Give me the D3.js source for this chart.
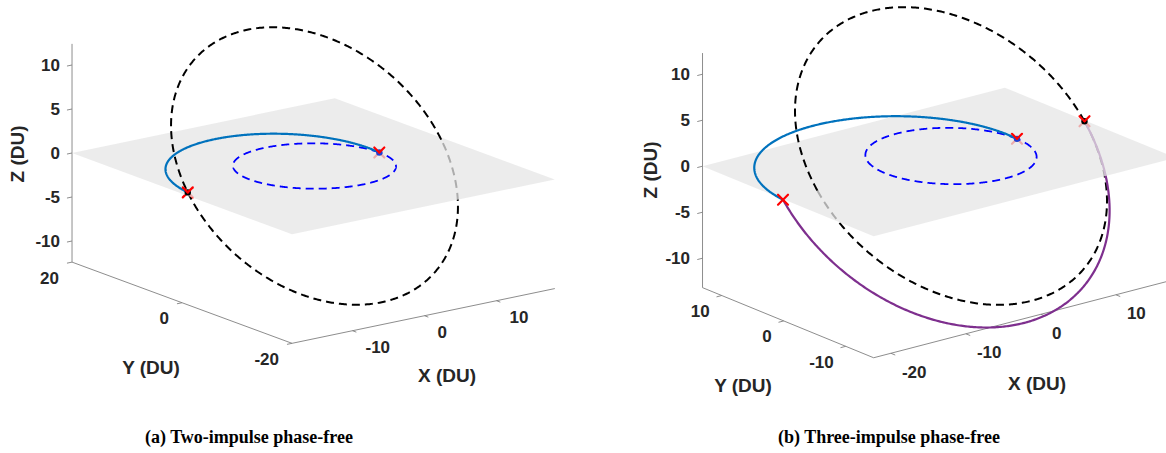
<!DOCTYPE html>
<html>
<head>
<meta charset="utf-8">
<script src="https://cdn.jsdelivr.net/npm/d3@7"></script>
<style>
  body { margin: 0; background: #fff; }
  svg text.axis-text { font-family: Arial, "Liberation Sans", Helvetica, sans-serif; }
  svg text.caption { font-family: "Liberation Serif", "Times New Roman", Times, serif; }
</style>
</head>
<body>
<svg id="fig" width="1166" height="453"></svg>
<script>
// ---- axis limits and ticks (DU) ----
const xLimA = [-18.4, 18.1], yLimA = [-20, 20], zLimA = [-12.4, 12.4];
const xTicksA = [-10, 0, 10], yTicksA = [-20, 0, 20], zTicksA = [-10, -5, 0, 5, 10];
const xLimB = [-22.3, 18.0], yLimB = [-14.5, 13.1], zLimB = [-13.2, 12.3];
const xTicksB = [-20, -10, 0, 10], yTicksB = [-10, 0, 10], zTicksB = [-10, -5, 0, 5, 10];

// ---- orbit data: [panel a, panel b] (radii in DU, angles in degrees) ----
const initialRadius = [9.0, 8.8];     // departure circle in the reference plane
const finalRadius   = [17.6, 17.8];   // target circle
const finalIncl     = [46, 43];       // target plane inclination
const leg1Apo       = [17.6, 22.4];   // first transfer arc: apoapsis radius
const leg1Tilt      = [4, 3.5];       // first transfer arc: plane tilt
const leg2Apo       = [null, 22.4];   // second transfer arc (three-impulse only)
const leg2Peri      = [null, 17.8];
const captions      = ["(a) Two-impulse phase-free", "(b) Three-impulse phase-free"];

const svg = d3.select("#fig");
svg.append("rect").attr("width", 1166).attr("height", 453).attr("fill", "#fff");

// points of a conic arc: periapsis on +x, node line along x, plane tilted by incl
function conic(rp, ra, incl, th0, th1) {
  const a = (rp + ra) / 2, e = (ra - rp) / (ra + rp), p = a * (1 - e * e);
  const ci = Math.cos(incl * Math.PI / 180), si = Math.sin(incl * Math.PI / 180);
  const n = Math.max(2, Math.round(Math.abs(th1 - th0) * 2));
  return d3.range(n + 1).map(k => {
    const th = (th0 + (th1 - th0) * k / n) * Math.PI / 180;
    const r = p / (1 + e * Math.cos(th));
    return [r * Math.cos(th), r * Math.sin(th) * ci, r * Math.sin(th) * si];
  });
}

// split a 3D polyline into runs above / below the z = 0 plane
function splitByPlane(pts) {
  const runs = [];
  for (let i = 0; i < pts.length - 1; i++) {
    const below = (pts[i][2] + pts[i + 1][2]) / 2 < -1e-6;
    const last = runs[runs.length - 1];
    if (last && last.below === below) last.pts.push(pts[i + 1]);
    else runs.push({ below, pts: [pts[i], pts[i + 1]] });
  }
  return runs;
}

const panelLayout = [
  { origin: [314.5, 166], ex: [7.2, -1.5], ey: [-5.5, -2.03], ez: [0, -8.8],
    xLim: xLimA, yLim: yLimA, zLim: zLimA, xTicks: xTicksA, yTicks: yTicksA, zTicks: zTicksA,
    zLab: [-12, 0], yLab: [-13, 16], xLab: [13, 17],
    zTitle: [17.5, 154], yTitle: [151, 367], xTitle: [447, 375], caption: [249, 443] },
  { origin: [951, 156], ex: [7.5, -1.95], ey: [-6.2, -2.54], ez: [0, -9.2],
    xLim: xLimB, yLim: yLimB, zLim: zLimB, xTicks: xTicksB, yTicks: yTicksB, zTicks: zTicksB,
    zLab: [-12.5, 0], yLab: [-12, 16], xLab: [11, 19],
    zTitle: [650, 170], yTitle: [743, 385], xTitle: [1037, 383], caption: [889, 443] }
];

panelLayout.forEach((L, k) => {
  // one linear scale per data axis, each mapping a value to a screen offset vector
  const sx = d3.scaleLinear().domain([0, 1]).range([[0, 0], L.ex]);
  const sy = d3.scaleLinear().domain([0, 1]).range([[0, 0], L.ey]);
  const sz = d3.scaleLinear().domain([0, 1]).range([[0, 0], L.ez]);
  const proj = p => {
    const a = sx(p[0]), b = sy(p[1]), c = sz(p[2]);
    return [L.origin[0] + a[0] + b[0] + c[0], L.origin[1] + a[1] + b[1] + c[1]];
  };
  const line = d3.line().x(p => proj(p)[0]).y(p => proj(p)[1]);

  const g = svg.append("g");
  const gAxes = g.append("g"), gBelow = g.append("g"), gPlane = g.append("g"), gAbove = g.append("g");

  const [x0, x1] = L.xLim, [y0, y1] = L.yLim, [z0, z1] = L.zLim;
  const axisStyle = sel => sel.attr("fill", "none").attr("stroke", "#808080").attr("stroke-width", 0.9);
  const tickFont = sel => sel.attr("class", "axis-text").attr("font-size", 17)
    .attr("font-weight", "bold").attr("fill", "#262626");
  const tl = 0.7;

  // z axis at (xmin, ymax)
  gAxes.append("path").attr("d", line([[x0, y1, z0], [x0, y1, z1]])).call(axisStyle);
  L.zTicks.forEach(t => {
    gAxes.append("path").attr("d", line([[x0, y1, t], [x0 - tl, y1, t]])).call(axisStyle);
    const q = proj([x0, y1, t]);
    gAxes.append("text").attr("x", q[0] + L.zLab[0]).attr("y", q[1] + L.zLab[1])
      .attr("text-anchor", "end").attr("dominant-baseline", "central").text(t).call(tickFont);
  });
  // y axis at (xmin, zmin)
  gAxes.append("path").attr("d", line([[x0, y1, z0], [x0, y0, z0]])).call(axisStyle);
  L.yTicks.forEach(t => {
    gAxes.append("path").attr("d", line([[x0, t, z0], [x0 - tl, t, z0]])).call(axisStyle);
    const q = proj([x0, t, z0]);
    gAxes.append("text").attr("x", q[0] + L.yLab[0]).attr("y", q[1] + L.yLab[1])
      .attr("text-anchor", "end").attr("dominant-baseline", "central").text(t).call(tickFont);
  });
  // x axis at (ymin, zmin)
  gAxes.append("path").attr("d", line([[x0, y0, z0], [x1, y0, z0]])).call(axisStyle);
  L.xTicks.forEach(t => {
    gAxes.append("path").attr("d", line([[t, y0, z0], [t, y0 - tl, z0]])).call(axisStyle);
    const q = proj([t, y0, z0]);
    gAxes.append("text").attr("x", q[0] + L.xLab[0]).attr("y", q[1] + L.xLab[1])
      .attr("text-anchor", "start").attr("dominant-baseline", "central").text(t).call(tickFont);
  });
  const titleFont = sel => sel.attr("class", "axis-text").attr("font-size", 19).attr("font-weight", "bold")
    .attr("fill", "#262626").attr("text-anchor", "middle").attr("dominant-baseline", "central");
  gAxes.append("text").attr("transform", `translate(${L.zTitle[0]},${L.zTitle[1]}) rotate(-90)`)
    .text("Z (DU)").call(titleFont);
  gAxes.append("text").attr("x", L.yTitle[0]).attr("y", L.yTitle[1]).text("Y (DU)").call(titleFont);
  gAxes.append("text").attr("x", L.xTitle[0]).attr("y", L.xTitle[1]).text("X (DU)").call(titleFont);

  // reference plane z = 0, semi-transparent
  gPlane.append("path")
    .attr("d", line([[x0, y0, 0], [x1, y0, 0], [x1, y1, 0], [x0, y1, 0], [x0, y0, 0]]) + "Z")
    .attr("fill", "#e6e6e6").attr("fill-opacity", 0.75).attr("stroke", "none");

  function curve(pts, color, width, dash) {
    splitByPlane(pts).forEach(run => {
      (run.below ? gBelow : gAbove).append("path").attr("d", line(run.pts))
        .attr("fill", "none").attr("stroke", color).attr("stroke-width", width)
        .attr("stroke-dasharray", dash || null).attr("stroke-linejoin", "round");
    });
  }

  // orbits
  curve(conic(initialRadius[k], initialRadius[k], 0, 0, 360), "#0000ff", 1.8, "8,5");
  curve(conic(finalRadius[k], finalRadius[k], finalIncl[k], -180, 180), "#000000", 2, "8,5");
  const leg1 = conic(initialRadius[k], leg1Apo[k], leg1Tilt[k], 0, 180);
  curve(leg1, "#0072BD", 2.2);
  let leg2 = null;
  if (leg2Apo[k] !== null) {
    leg2 = conic(leg2Peri[k], leg2Apo[k], finalIncl[k], 180, 360);
    curve(leg2, "#7E2F8E", 2.2);
  }

  // impulse markers: dot + red cross; lower arms go under the plane
  function marker(p, dotColor) {
    const q = proj(p), h = 5;
    if (dotColor) gAbove.append("circle").attr("cx", q[0]).attr("cy", q[1]).attr("r", 3.2).attr("fill", dotColor);
    const arm = (g2, dx, dy) => g2.append("line").attr("x1", q[0]).attr("y1", q[1])
      .attr("x2", q[0] + dx).attr("y2", q[1] + dy).attr("stroke", "#ff0000").attr("stroke-width", 2.2)
      .attr("stroke-linecap", "round");
    arm(gBelow, -h, h); arm(gBelow, h, h);
    arm(gAbove, -h, -h); arm(gAbove, h, -h);
  }
  marker(leg1[0], "#1f3fd0");
  if (leg2) {
    marker(leg1[leg1.length - 1], null);
    marker(leg2[leg2.length - 1], "#000000");
  } else {
    marker(leg1[leg1.length - 1], "#000000");
  }

  svg.append("text").attr("class", "caption").attr("x", L.caption[0]).attr("y", L.caption[1])
    .attr("text-anchor", "middle").attr("font-weight", "bold").attr("font-size", 18)
    .attr("fill", "#000").text(captions[k]);
});
</script>
</body>
</html>
